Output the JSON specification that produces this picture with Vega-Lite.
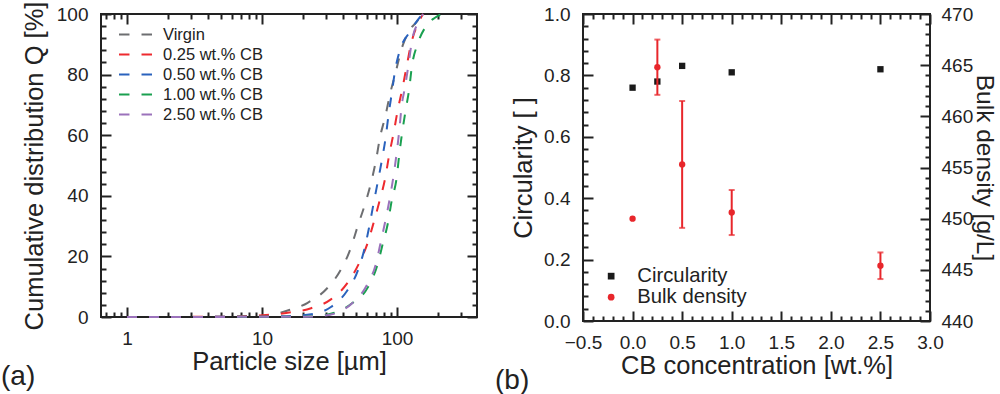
{
  "$schema": "https://vega.github.io/schema/vega-lite/v6.json",
  "background": "white",
  "padding": {"left": 0, "top": 0, "right": 0, "bottom": 0},
  "spacing": 15,
  "resolve": {"scale": {"color": "independent", "shape": "independent"}, "legend": {"color": "independent", "shape": "independent"}},
  "datasets": {
    "psd": [
      {"series": "Virgin", "d": 1, "Q": 0},
      {"series": "Virgin", "d": 5, "Q": 0.05},
      {"series": "Virgin", "d": 10.4, "Q": 0.3},
      {"series": "Virgin", "d": 15.1, "Q": 2.0},
      {"series": "Virgin", "d": 21.8, "Q": 4.7},
      {"series": "Virgin", "d": 30.7, "Q": 9.7},
      {"series": "Virgin", "d": 38.5, "Q": 15.7},
      {"series": "Virgin", "d": 45.1, "Q": 22.3},
      {"series": "Virgin", "d": 51.2, "Q": 30.0},
      {"series": "Virgin", "d": 57.9, "Q": 37.2},
      {"series": "Virgin", "d": 64.2, "Q": 44.3},
      {"series": "Virgin", "d": 69.9, "Q": 51.7},
      {"series": "Virgin", "d": 74.8, "Q": 59.2},
      {"series": "Virgin", "d": 82, "Q": 66.3},
      {"series": "Virgin", "d": 89.3, "Q": 74.0},
      {"series": "Virgin", "d": 98.4, "Q": 81.2},
      {"series": "Virgin", "d": 107, "Q": 87.8},
      {"series": "Virgin", "d": 123, "Q": 94.4},
      {"series": "Virgin", "d": 142, "Q": 97.8},
      {"series": "Virgin", "d": 152, "Q": 100},
      {"series": "0.25 wt.% CB", "d": 1, "Q": 0},
      {"series": "0.25 wt.% CB", "d": 5, "Q": 0.1},
      {"series": "0.25 wt.% CB", "d": 10.7, "Q": 0.66},
      {"series": "0.25 wt.% CB", "d": 15.5, "Q": 1.4},
      {"series": "0.25 wt.% CB", "d": 23.1, "Q": 2.9},
      {"series": "0.25 wt.% CB", "d": 32.4, "Q": 5.8},
      {"series": "0.25 wt.% CB", "d": 43.1, "Q": 11.3},
      {"series": "0.25 wt.% CB", "d": 52.6, "Q": 17.9},
      {"series": "0.25 wt.% CB", "d": 60.7, "Q": 24.5},
      {"series": "0.25 wt.% CB", "d": 67.5, "Q": 31.5},
      {"series": "0.25 wt.% CB", "d": 74.8, "Q": 38.8},
      {"series": "0.25 wt.% CB", "d": 81.5, "Q": 45.5},
      {"series": "0.25 wt.% CB", "d": 87.7, "Q": 53.7},
      {"series": "0.25 wt.% CB", "d": 94.5, "Q": 60.8},
      {"series": "0.25 wt.% CB", "d": 101, "Q": 68.0},
      {"series": "0.25 wt.% CB", "d": 110, "Q": 75.7},
      {"series": "0.25 wt.% CB", "d": 118, "Q": 82.8},
      {"series": "0.25 wt.% CB", "d": 127, "Q": 90.0},
      {"series": "0.25 wt.% CB", "d": 144, "Q": 97.1},
      {"series": "0.25 wt.% CB", "d": 156, "Q": 100},
      {"series": "0.50 wt.% CB", "d": 1, "Q": 0},
      {"series": "0.50 wt.% CB", "d": 10, "Q": 0.1},
      {"series": "0.50 wt.% CB", "d": 17, "Q": 0.4},
      {"series": "0.50 wt.% CB", "d": 23.1, "Q": 0.9},
      {"series": "0.50 wt.% CB", "d": 32.4, "Q": 3.3},
      {"series": "0.50 wt.% CB", "d": 42.6, "Q": 8.6},
      {"series": "0.50 wt.% CB", "d": 51.2, "Q": 15.2},
      {"series": "0.50 wt.% CB", "d": 57.3, "Q": 22.3},
      {"series": "0.50 wt.% CB", "d": 61.7, "Q": 28.9},
      {"series": "0.50 wt.% CB", "d": 66.8, "Q": 37.0},
      {"series": "0.50 wt.% CB", "d": 71.5, "Q": 43.8},
      {"series": "0.50 wt.% CB", "d": 77.1, "Q": 51.5},
      {"series": "0.50 wt.% CB", "d": 82.4, "Q": 59.2},
      {"series": "0.50 wt.% CB", "d": 86.7, "Q": 66.9},
      {"series": "0.50 wt.% CB", "d": 91.4, "Q": 73.7},
      {"series": "0.50 wt.% CB", "d": 96.7, "Q": 81.2},
      {"series": "0.50 wt.% CB", "d": 105, "Q": 88.0},
      {"series": "0.50 wt.% CB", "d": 123, "Q": 93.8},
      {"series": "0.50 wt.% CB", "d": 145, "Q": 98.5},
      {"series": "0.50 wt.% CB", "d": 154, "Q": 100},
      {"series": "1.00 wt.% CB", "d": 1, "Q": 0},
      {"series": "1.00 wt.% CB", "d": 20, "Q": 0.1},
      {"series": "1.00 wt.% CB", "d": 28, "Q": 0.5},
      {"series": "1.00 wt.% CB", "d": 34.4, "Q": 1.4},
      {"series": "1.00 wt.% CB", "d": 47, "Q": 4.7},
      {"series": "1.00 wt.% CB", "d": 60.7, "Q": 9.7},
      {"series": "1.00 wt.% CB", "d": 71.9, "Q": 17.4},
      {"series": "1.00 wt.% CB", "d": 78.3, "Q": 24.0},
      {"series": "1.00 wt.% CB", "d": 85.3, "Q": 30.6},
      {"series": "1.00 wt.% CB", "d": 91.5, "Q": 38.5},
      {"series": "1.00 wt.% CB", "d": 99.5, "Q": 46.0},
      {"series": "1.00 wt.% CB", "d": 104, "Q": 53.7},
      {"series": "1.00 wt.% CB", "d": 109, "Q": 60.6},
      {"series": "1.00 wt.% CB", "d": 116, "Q": 68.3},
      {"series": "1.00 wt.% CB", "d": 123, "Q": 75.1},
      {"series": "1.00 wt.% CB", "d": 129, "Q": 82.8},
      {"series": "1.00 wt.% CB", "d": 142, "Q": 90.0},
      {"series": "1.00 wt.% CB", "d": 167, "Q": 96.4},
      {"series": "1.00 wt.% CB", "d": 190, "Q": 98.7},
      {"series": "1.00 wt.% CB", "d": 215, "Q": 100},
      {"series": "2.50 wt.% CB", "d": 1, "Q": 0},
      {"series": "2.50 wt.% CB", "d": 20, "Q": 0.1},
      {"series": "2.50 wt.% CB", "d": 28, "Q": 0.4},
      {"series": "2.50 wt.% CB", "d": 34.4, "Q": 1.1},
      {"series": "2.50 wt.% CB", "d": 47, "Q": 4.7},
      {"series": "2.50 wt.% CB", "d": 60, "Q": 10.6},
      {"series": "2.50 wt.% CB", "d": 69.9, "Q": 17.6},
      {"series": "2.50 wt.% CB", "d": 76.1, "Q": 25.1},
      {"series": "2.50 wt.% CB", "d": 83, "Q": 32.8},
      {"series": "2.50 wt.% CB", "d": 88.8, "Q": 39.6},
      {"series": "2.50 wt.% CB", "d": 94.5, "Q": 46.9},
      {"series": "2.50 wt.% CB", "d": 99.5, "Q": 54.2},
      {"series": "2.50 wt.% CB", "d": 104, "Q": 61.6},
      {"series": "2.50 wt.% CB", "d": 108, "Q": 69.2},
      {"series": "2.50 wt.% CB", "d": 115, "Q": 76.2},
      {"series": "2.50 wt.% CB", "d": 122, "Q": 83.6},
      {"series": "2.50 wt.% CB", "d": 129, "Q": 91.1},
      {"series": "2.50 wt.% CB", "d": 146, "Q": 97.7},
      {"series": "2.50 wt.% CB", "d": 156, "Q": 100}
    ],
    "cb": [
      {"conc": 0.0, "circ": 0.76, "bd": 450.0, "lo": null, "hi": null},
      {"conc": 0.25, "circ": 0.78, "bd": 464.8, "lo": 462.1, "hi": 467.5},
      {"conc": 0.5, "circ": 0.831, "bd": 455.3, "lo": 449.1, "hi": 461.5},
      {"conc": 1.0, "circ": 0.81, "bd": 450.6, "lo": 448.4, "hi": 452.8},
      {"conc": 2.5, "circ": 0.82, "bd": 445.4, "lo": 444.1, "hi": 446.7}
    ]
  },
  "hconcat": [
    {
      "width": 376,
      "height": 303,
      "title": {"text": "(a)", "orient": "bottom", "anchor": "start", "frame": "group", "dx": -100, "offset": -12, "fontSize": 28, "fontWeight": "normal", "color": "#222"},
      "data": {"name": "psd"},
      "layer": [
        {
          "mark": {"type": "line", "strokeDash": [10, 12], "strokeWidth": 2, "interpolate": "monotone"},
          "encoding": {
            "x": {"field": "d", "type": "quantitative",
              "scale": {"type": "log", "domain": [0.642, 391.5], "nice": false},
              "axis": {"orient": "bottom", "title": "Particle size [µm]",
                "values": [0.7, 0.8, 0.9, 1, 2, 3, 4, 5, 6, 7, 8, 9, 10, 20, 30, 40, 50, 60, 70, 80, 90, 100, 200, 300],
                "labelExpr": "(datum.value == 1 || datum.value == 10 || datum.value == 100) ? format(datum.value, 'd') : ''",
                "tickSize": {"condition": {"test": "datum.value == 1 || datum.value == 10 || datum.value == 100", "value": -10}, "value": -5},
                "labelPadding": 22, "titlePadding": -4}},
            "y": {"field": "Q", "type": "quantitative",
              "scale": {"domain": [0, 100], "nice": false},
              "axis": {"orient": "left", "title": "Cumulative distribution Q [%]",
                "values": [0, 4, 8, 12, 16, 20, 24, 28, 32, 36, 40, 44, 48, 52, 56, 60, 64, 68, 72, 76, 80, 84, 88, 92, 96, 100],
                "labelExpr": "datum.value % 20 == 0 ? format(datum.value, 'd') : ''",
                "tickSize": {"condition": {"test": "datum.value % 20 == 0", "value": -10}, "value": -5},
                "labelPadding": 23, "titlePadding": 9}},
            "color": {"field": "series", "type": "nominal",
              "scale": {"domain": ["Virgin", "0.25 wt.% CB", "0.50 wt.% CB", "1.00 wt.% CB", "2.50 wt.% CB"],
                "range": ["#6d6e71", "#ee2a2f", "#2a62bd", "#1aa050", "#9b72bb"]},
              "legend": {"orient": "none", "legendX": 25, "legendY": 11, "title": null, "padding": 0,
                "symbolType": "M-2,0H-0.73M0.73,0H2", "symbolStrokeWidth": 2, "symbolDash": [], "symbolSize": 272,
                "labelFontSize": 16.5, "labelOffset": 18, "rowPadding": 2, "labelColor": "#222"}}
          }
        },
        {
          "mark": {"type": "line", "opacity": 0},
          "encoding": {
            "x": {"field": "d", "type": "quantitative",
              "axis": {"orient": "top", "title": null, "labels": false,
                "values": [0.7, 0.8, 0.9, 1, 2, 3, 4, 5, 6, 7, 8, 9, 10, 20, 30, 40, 50, 60, 70, 80, 90, 100, 200, 300],
                "tickSize": {"condition": {"test": "datum.value == 1 || datum.value == 10 || datum.value == 100", "value": -10}, "value": -5}}},
            "y": {"field": "Q", "type": "quantitative",
              "axis": {"orient": "right", "title": null, "labels": false,
                "values": [0, 4, 8, 12, 16, 20, 24, 28, 32, 36, 40, 44, 48, 52, 56, 60, 64, 68, 72, 76, 80, 84, 88, 92, 96, 100],
                "tickSize": {"condition": {"test": "datum.value % 20 == 0", "value": -10}, "value": -5}}},
            "detail": {"field": "series", "type": "nominal"}
          }
        }
      ],
      "resolve": {"axis": {"x": "independent", "y": "independent"}}
    },
    {
      "width": 347,
      "height": 307,
      "title": {"text": "(b)", "orient": "bottom", "anchor": "start", "frame": "group", "dx": -88, "offset": -12, "fontSize": 28, "fontWeight": "normal", "color": "#222"},
      "data": {"name": "cb"},
      "layer": [
        {
          "mark": {"type": "point", "filled": true, "size": 40, "opacity": 1},
          "encoding": {
            "x": {"field": "conc", "type": "quantitative",
              "scale": {"domain": [-0.5, 3.0], "nice": false},
              "axis": {"orient": "bottom", "title": "CB concentration [wt.%]",
                "values": [-0.5, -0.4, -0.3, -0.2, -0.1, 0, 0.1, 0.2, 0.3, 0.4, 0.5, 0.6, 0.7, 0.8, 0.9, 1.0, 1.1, 1.2, 1.3, 1.4, 1.5, 1.6, 1.7, 1.8, 1.9, 2.0, 2.1, 2.2, 2.3, 2.4, 2.5, 2.6, 2.7, 2.8, 2.9, 3.0],
                "labelExpr": "abs(datum.value * 2 - round(datum.value * 2)) < 0.001 ? format(datum.value, '.1f') : ''",
                "tickSize": {"condition": {"test": "abs(datum.value * 2 - round(datum.value * 2)) < 0.001", "value": -10}, "value": -5},
                "labelPadding": 22, "titlePadding": -4}},
            "y": {"field": "circ", "type": "quantitative",
              "scale": {"domain": [0, 1], "nice": false},
              "axis": {"orient": "left", "title": "Circularity [ ]",
                "values": [0, 0.04, 0.08, 0.12, 0.16, 0.2, 0.24, 0.28, 0.32, 0.36, 0.4, 0.44, 0.48, 0.52, 0.56, 0.6, 0.64, 0.68, 0.72, 0.76, 0.8, 0.84, 0.88, 0.92, 0.96, 1.0],
                "labelExpr": "abs(datum.value * 5 - round(datum.value * 5)) < 0.001 ? format(datum.value, '.1f') : ''",
                "tickSize": {"condition": {"test": "abs(datum.value * 5 - round(datum.value * 5)) < 0.001", "value": -10}, "value": -5},
                "labelPadding": 23, "titlePadding": 7}},
            "color": {"datum": "Circularity", "type": "nominal",
              "scale": {"domain": ["Circularity", "Bulk density"], "range": ["#1a1a1a", "#e8262b"]},
              "legend": {"orient": "none", "legendX": 18, "legendY": 252, "title": null, "padding": 0, "labelFontSize": 20.3, "labelOffset": 16, "symbolSize": 45, "rowPadding": -1, "labelColor": "#222"}},
            "shape": {"datum": "Circularity", "type": "nominal",
              "scale": {"domain": ["Circularity", "Bulk density"], "range": ["square", "circle"]},
              "legend": {"orient": "none", "legendX": 18, "legendY": 252, "title": null, "padding": 0, "labelFontSize": 20.3, "labelOffset": 16, "symbolSize": 45, "rowPadding": -1, "labelColor": "#222"}}
          }
        },
        {
          "encoding": {
            "x": {"field": "conc", "type": "quantitative",
              "axis": {"orient": "top", "title": null, "labels": false,
                "values": [-0.5, -0.4, -0.3, -0.2, -0.1, 0, 0.1, 0.2, 0.3, 0.4, 0.5, 0.6, 0.7, 0.8, 0.9, 1.0, 1.1, 1.2, 1.3, 1.4, 1.5, 1.6, 1.7, 1.8, 1.9, 2.0, 2.1, 2.2, 2.3, 2.4, 2.5, 2.6, 2.7, 2.8, 2.9, 3.0],
                "tickSize": {"condition": {"test": "abs(datum.value * 2 - round(datum.value * 2)) < 0.001", "value": -10}, "value": -5}}}
          },
          "layer": [
            {
              "transform": [{"filter": "datum.lo != null"}],
              "mark": {"type": "errorbar", "color": "#e8262b", "thickness": 2, "ticks": {"size": 6, "thickness": 2, "color": "#e8262b"}},
              "encoding": {
                "y": {"field": "lo", "type": "quantitative",
                  "scale": {"domain": [440, 470], "nice": false},
                  "axis": {"orient": "right", "title": "Bulk density [g/L]", "titleFontSize": 24.5,
                    "values": [440, 441, 442, 443, 444, 445, 446, 447, 448, 449, 450, 451, 452, 453, 454, 455, 456, 457, 458, 459, 460, 461, 462, 463, 464, 465, 466, 467, 468, 469, 470],
                    "labelExpr": "datum.value % 5 == 0 ? format(datum.value, 'd') : ''",
                    "tickSize": {"condition": {"test": "datum.value % 5 == 0", "value": -10}, "value": -5},
                    "labelPadding": 21, "titlePadding": -1}},
                "y2": {"field": "hi"}
              }
            },
            {
              "mark": {"type": "point", "filled": true, "size": 40, "opacity": 1},
              "encoding": {
                "y": {"field": "bd", "type": "quantitative",
                  "axis": {"orient": "right", "title": "Bulk density [g/L]", "titleFontSize": 24.5,
                    "values": [440, 441, 442, 443, 444, 445, 446, 447, 448, 449, 450, 451, 452, 453, 454, 455, 456, 457, 458, 459, 460, 461, 462, 463, 464, 465, 466, 467, 468, 469, 470],
                    "labelExpr": "datum.value % 5 == 0 ? format(datum.value, 'd') : ''",
                    "tickSize": {"condition": {"test": "datum.value % 5 == 0", "value": -10}, "value": -5},
                    "labelPadding": 21, "titlePadding": -1}},
                "color": {"datum": "Bulk density", "type": "nominal"},
                "shape": {"datum": "Bulk density", "type": "nominal"}
              }
            }
          ]
        }
      ],
      "resolve": {"scale": {"y": "independent"}, "axis": {"x": "independent"}}
    }
  ],
  "config": {
    "font": "Liberation Sans",
    "view": {"stroke": "#222", "strokeWidth": 2},
    "axis": {"domain": false, "grid": false, "labelFont": "Liberation Sans", "titleFont": "Liberation Sans",
      "labelFontSize": 19, "titleFontSize": 25.5, "titleFontWeight": "normal", "labelColor": "#222", "titleColor": "#222",
      "tickColor": "#222", "tickWidth": 2, "labelOverlap": false, "labelFlush": false, "labelBound": false},
    "legend": {"labelFont": "Liberation Sans"},
    "title": {"font": "Liberation Sans"}
  }
}
